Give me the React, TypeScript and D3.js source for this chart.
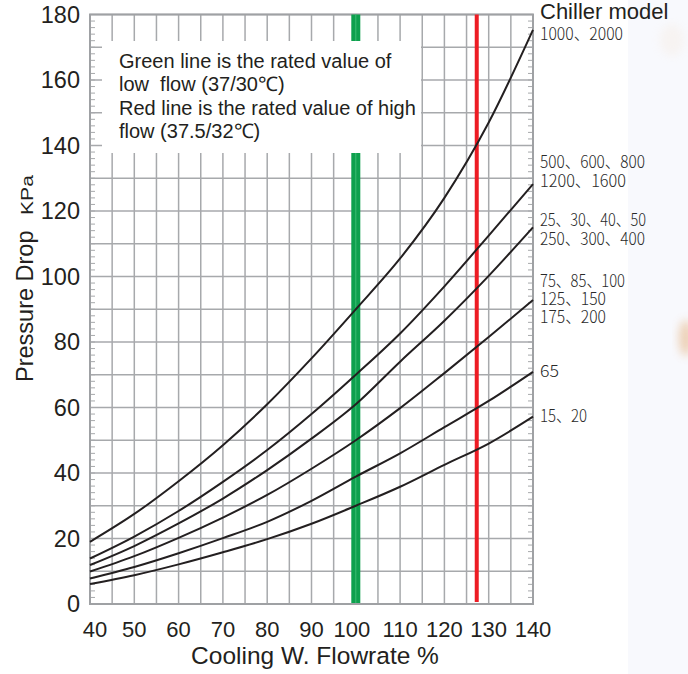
import React from "react";
import * as d3 from "d3";

// ---- data ----
const flowrate = [40, 50, 60, 70, 80, 90, 100, 110, 120, 130, 140];
const model1000 = [19, 27.5, 37.5, 48.5, 61, 75, 90, 105.5, 124, 147, 175.3];
const model500 = [13.9, 20.6, 28.4, 37.3, 47, 58, 70, 82.6, 97, 112.5, 128.2];
const model25 = [11.9, 17.7, 24.6, 32.2, 40.9, 50.5, 61, 74, 86.5, 100.2, 115];
const model75 = [9.9, 14.6, 20.2, 26.4, 33.3, 41.3, 50, 59.8, 70.5, 81.5, 92.8];
const model65 = [7.8, 11.3, 15.5, 20.1, 25.1, 31.5, 38.9, 46, 54, 62, 70.9];
const model15 = [6.1, 8.8, 12.1, 15.8, 19.8, 24.5, 30, 35.8, 42.5, 49, 57.2];
const seriesList = [model1000, model500, model25, model75, model65, model15];

const xTicks = [40, 50, 60, 70, 80, 90, 100, 110, 120, 130, 140];
const yTicks = [0, 20, 40, 60, 80, 100, 120, 140, 160, 180];
const greenFlow = 100;
const redFlow = 127.3;

const curveLabels = [
  "1000、2000",
  "500、600、800",
  "1200、1600",
  "25、30、40、50",
  "250、300、400",
  "75、85、100",
  "125、150",
  "175、200",
  "65",
  "15、20",
];
const noteLines = [
  "Green line is the rated value of",
  "low  flow (37/30℃)",
  "Red line is the rated value of high",
  "flow (37.5/32℃)",
];

export default function App() {
  const W = 688, H = 674;
  const x = d3.scaleLinear().domain([40, 140]).range([90, 533]);
  const y = d3.scaleLinear().domain([0, 180]).range([604, 14.5]);
  const line = d3
    .line<number>()
    .x((_, i) => x(flowrate[i]))
    .y((d) => y(d))
    .curve(d3.curveMonotoneX);

  const gridColor = "#a7a9ac";
  const sans = "'Liberation Sans', Arial, Helvetica, sans-serif";
  const cjk = "'Noto Sans CJK JP', sans-serif";

  const vGrid = d3.range(40, 141, 5);
  const hGrid = d3.range(0, 181, 10);
  const minor = d3.range(0, 181, 2);

  // label layout (baselines, widths)
  const labelBase = [40, 168, 187, 226, 245, 287, 305, 323, 377, 422];
  const labelW = [83, 105, 86, 106, 105, 85, 66, 66, 19, 47];

  const box = { x0: 102, x1: 421, y0: 41, y1: 153 };

  return (
    <svg
      width={W}
      height={H}
      style={{ position: "absolute", left: 0, top: 0, background: "#fff" }}
      xmlns="http://www.w3.org/2000/svg"
    >
      <defs>
        <filter id="blur" x="-50%" y="-50%" width="200%" height="200%">
          <feGaussianBlur stdDeviation="5" />
        </filter>
      </defs>
      <rect x={0} y={0} width={W} height={H} fill="#fff" />
      <rect x={628} y={0} width={60} height={H} fill="#f8f9fd" />
      <ellipse cx={686} cy={338} rx={7} ry={18} fill="#dc9348" opacity={0.4} filter="url(#blur)" />
      <ellipse cx={672} cy={40} rx={12} ry={16} fill="#f3dcc4" opacity={0.2} filter="url(#blur)" />

      {/* grid */}
      {vGrid.map((v) => (
        <line key={"v" + v} x1={x(v)} x2={x(v)} y1={y(180)} y2={y(0)} stroke={gridColor} strokeWidth={1.5} />
      ))}
      {hGrid.map((v) => (
        <line key={"h" + v} x1={x(40)} x2={x(140)} y1={y(v)} y2={y(v)} stroke={gridColor} strokeWidth={1.5} />
      ))}
      {minor.map((v) => (
        <g key={"m" + v}>
          <line x1={x(40)} x2={x(40) + 5} y1={y(v)} y2={y(v)} stroke={gridColor} strokeWidth={1} />
          <line x1={x(140) - 5} x2={x(140)} y1={y(v)} y2={y(v)} stroke={gridColor} strokeWidth={1} />
        </g>
      ))}
      <rect x={x(40)} y={y(180)} width={x(140) - x(40)} height={y(0) - y(180)} fill="none" stroke="#9fa1a4" strokeWidth={2} />

      {/* rated lines */}
      <rect x={x(greenFlow) - 4.5} y={y(180)} width={9} height={y(0) - y(180) - 1} fill="#0ea04e" />
      <line x1={x(greenFlow)} x2={x(greenFlow)} y1={y(180)} y2={y(0) - 1} stroke="#3cbc74" strokeWidth={1} />
      <rect x={x(redFlow) - 2} y={y(180)} width={4} height={y(0) - y(180) - 2} fill="#ed1c24" />

      {/* note box */}
      <rect x={box.x0} y={box.y0} width={box.x1 - box.x0} height={box.y1 - box.y0} fill="#fff" />
      {noteLines.map((t, i) => (
        <text
          key={t}
          x={119}
          y={68 + i * 23.3}
          fontFamily={sans}
          fontSize={20}
          fill="#231f20"
          style={{ whiteSpace: "pre" }}
        >
          {t}
        </text>
      ))}

      {/* curves */}
      {seriesList.map((s, i) => (
        <path key={i} d={line(s) || ""} fill="none" stroke="#231f20" strokeWidth={2} />
      ))}

      {/* y ticks */}
      {yTicks.map((v) => (
        <text key={"yt" + v} x={80} y={y(v)} dy="0.36em" textAnchor="end" fontFamily={sans} fontSize={23.5} fill="#231f20">
          {v}
        </text>
      ))}
      {/* x ticks */}
      {xTicks.map((v) => (
        <text
          key={"xt" + v}
          x={x(v) + (v === 40 ? 5 : v === 100 ? -4 : 0)}
          y={637}
          textAnchor="middle"
          fontFamily={sans}
          fontSize={22}
          fill="#231f20"
        >
          {v}
        </text>
      ))}

      {/* axis titles */}
      <text x={315} y={664} textAnchor="middle" fontFamily={sans} fontSize={24.5} fill="#231f20">
        Cooling W. Flowrate %
      </text>
      <text transform="translate(33,382) rotate(-90)" fontFamily={sans} fontSize={23.5} fill="#231f20">
        Pressure Drop
      </text>
      <text
        transform="translate(33,215) rotate(-90)"
        fontFamily={sans}
        fontSize={17}
        fill="#231f20"
        textLength={40}
        lengthAdjust="spacingAndGlyphs"
      >
        KPa
      </text>

      <text x={540} y={19} fontFamily={sans} fontSize={22} fill="#231f20">
        Chiller model
      </text>
      {curveLabels.map((t, i) => (
        <text
          key={t}
          x={540}
          y={labelBase[i]}
          fontFamily={cjk}
          fontWeight={300}
          fontSize={17}
          fill="#2a2a2a"
          textLength={labelW[i]}
          lengthAdjust="spacingAndGlyphs"
        >
          {t}
        </text>
      ))}
    </svg>
  );
}
